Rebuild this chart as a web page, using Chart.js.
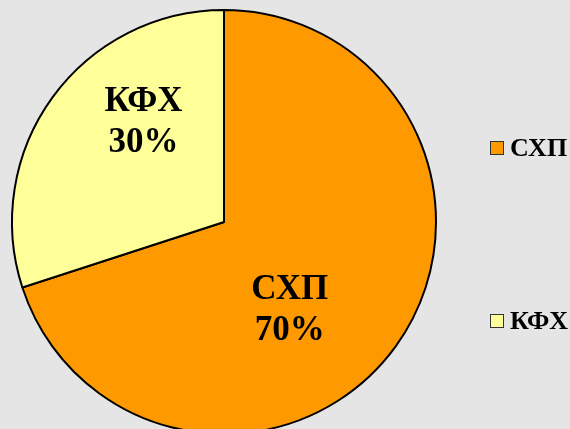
<!DOCTYPE html>
<html>
<head>
<meta charset="utf-8">
<script src="https://cdn.jsdelivr.net/npm/chart.js@4"></script>
<style>
html,body{margin:0;padding:0;background:#e5e5e5;overflow:hidden;width:570px;height:429px;}
#wrap{position:absolute;left:0;top:0;width:570px;height:440px;}
</style>
</head>
<body>
<div id="wrap"><canvas id="c" width="570" height="440"></canvas></div>
<script>
const categories = ["СХП", "КФХ"];
const shares = [70, 30];
const sliceColors = ["#ff9900", "#ffff99"];

const labelPlugin = {
  id: 'sliceLabels',
  afterDatasetsDraw(chart, args, opts) {
    const ctx = chart.ctx;
    const meta = chart.getDatasetMeta(0);
    ctx.save();
    ctx.fillStyle = '#000';
    ctx.font = 'bold 35px "Liberation Serif", "Times New Roman", serif';
    ctx.textAlign = 'center';
    ctx.textBaseline = 'middle';
    meta.data.forEach((arc, i) => {
      const p = arc.getProps(['x','y','outerRadius'], true);
      const f = opts.offsets[i];
      const cx = p.x + f[0] * p.outerRadius;
      const cy = p.y + f[1] * p.outerRadius;
      ctx.fillText(chart.data.labels[i], cx, cy - 20);
      ctx.fillText(chart.data.datasets[0].data[i] + '%', cx, cy + 21);
    });
    ctx.restore();
  }
};

const legendPlugin = {
  id: 'sideLegend',
  afterDraw(chart, args, opts) {
    const ctx = chart.ctx;
    ctx.save();
    ctx.font = 'bold 26px "Liberation Serif", "Times New Roman", serif';
    ctx.textBaseline = 'middle';
    ctx.textAlign = 'left';
    chart.data.labels.forEach((lab, i) => {
      const y = opts.ys[i];
      ctx.fillStyle = sliceColors[i];
      ctx.fillRect(opts.x, y - 7, 13, 13);
      ctx.strokeStyle = '#333';
      ctx.lineWidth = 1;
      ctx.strokeRect(opts.x + 0.5, y - 6.5, 13, 13);
      ctx.fillStyle = '#000';
      ctx.fillText(lab, opts.x + 20, y + 1);
    });
    ctx.restore();
  }
};

new Chart(document.getElementById('c'), {
  type: 'pie',
  data: {
    labels: categories,
    datasets: [{
      data: shares,
      backgroundColor: sliceColors,
      borderColor: '#000',
      borderWidth: 2
    }]
  },
  options: {
    responsive: false,
    animation: false,
    layout: { padding: { left: 11, top: 9, right: 133, bottom: 5 } },
    plugins: {
      legend: { display: false },
      tooltip: { enabled: false },
      sliceLabels: { offsets: [[0.31, 0.415], [-0.38, -0.47]] },
      sideLegend: { x: 490, ys: [148, 321] }
    }
  },
  plugins: [labelPlugin, legendPlugin]
});
</script>
</body>
</html>
